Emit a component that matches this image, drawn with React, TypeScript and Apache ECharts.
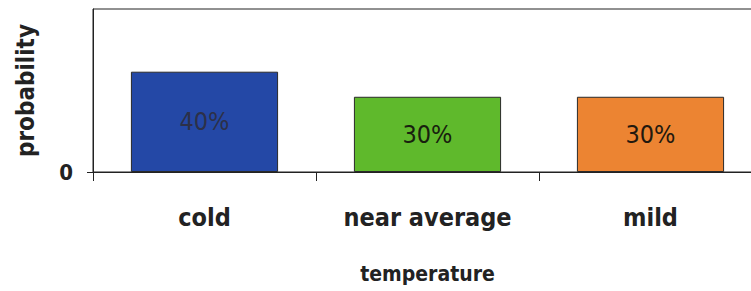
import React, { useEffect, useRef } from "react";
import * as echarts from "echarts";

const categories = ["cold", "near average", "mild"];
const probabilities = [40, 30, 30];
const barColors = ["#2448a6", "#5fb92c", "#ec8432"];
const labelColors = ["#2c3048", "#18200e", "#22180e"];
const yTickLabels = [0];

const FONT = "'DejaVu Sans Condensed', 'Liberation Sans Narrow', 'Arial Narrow', sans-serif";

export default function App() {
  const ref = useRef<HTMLDivElement>(null);
  useEffect(() => {
    if (!ref.current) return;
    const chart = echarts.init(ref.current, null, { renderer: "svg" });
    chart.setOption({
      animation: false,
      backgroundColor: "#ffffff",
      grid: {
        left: 93,
        top: 9,
        width: 669,
        height: 163,
        show: true,
        borderColor: "#222222",
        borderWidth: 1,
        containLabel: false,
      },
      xAxis: {
        type: "category",
        data: categories,
        boundaryGap: true,
        axisLine: { show: true, lineStyle: { color: "#222222", width: 1 } },
        axisTick: { show: true, length: 9, lineStyle: { color: "#222222" } },
        axisLabel: {
          fontFamily: FONT,
          fontSize: 25,
          fontWeight: "bold",
          color: "#222222",
          margin: 33,
        },
        name: "temperature",
        nameLocation: "middle",
        nameGap: 91,
        nameTextStyle: {
          fontFamily: FONT,
          fontSize: 21,
          fontWeight: "bold",
          color: "#222222",
        },
      },
      yAxis: {
        type: "value",
        min: 0,
        max: 65,
        interval: 65,
        splitLine: { show: false },
        axisLine: { show: true, lineStyle: { color: "#222222", width: 1 } },
        axisTick: { show: true, length: 6, customValues: yTickLabels, lineStyle: { color: "#222222" } },
        axisLabel: {
          customValues: yTickLabels,
          formatter: (v: number) => String(v),
          fontFamily: FONT,
          fontSize: 22,
          fontWeight: "bold",
          color: "#222222",
          margin: 20,
        },
        name: "probability",
        nameLocation: "middle",
        nameGap: 55,
        nameRotate: 90,
        nameTextStyle: {
          fontFamily: FONT,
          fontSize: 24,
          fontWeight: "bold",
          color: "#222222",
        },
      },
      series: [
        {
          type: "bar",
          barWidth: "66%",
          data: probabilities.map((v, i) => ({
            value: v,
            itemStyle: { color: barColors[i] },
            label: { color: labelColors[i] },
          })),
          itemStyle: { borderColor: "#2a2a2a", borderWidth: 1 },
          label: {
            show: true,
            position: "inside",
            formatter: "{c}%",
            fontFamily: FONT,
            fontSize: 25,
          },
        },
      ],
    });
    return () => chart.dispose();
  }, []);
  return (
    <div style={{ position: "fixed", left: 0, top: 0, width: 751, height: 291, overflow: "hidden", background: "#fff" }}>
      <div ref={ref} style={{ width: 780, height: 291 }} />
    </div>
  );
}
